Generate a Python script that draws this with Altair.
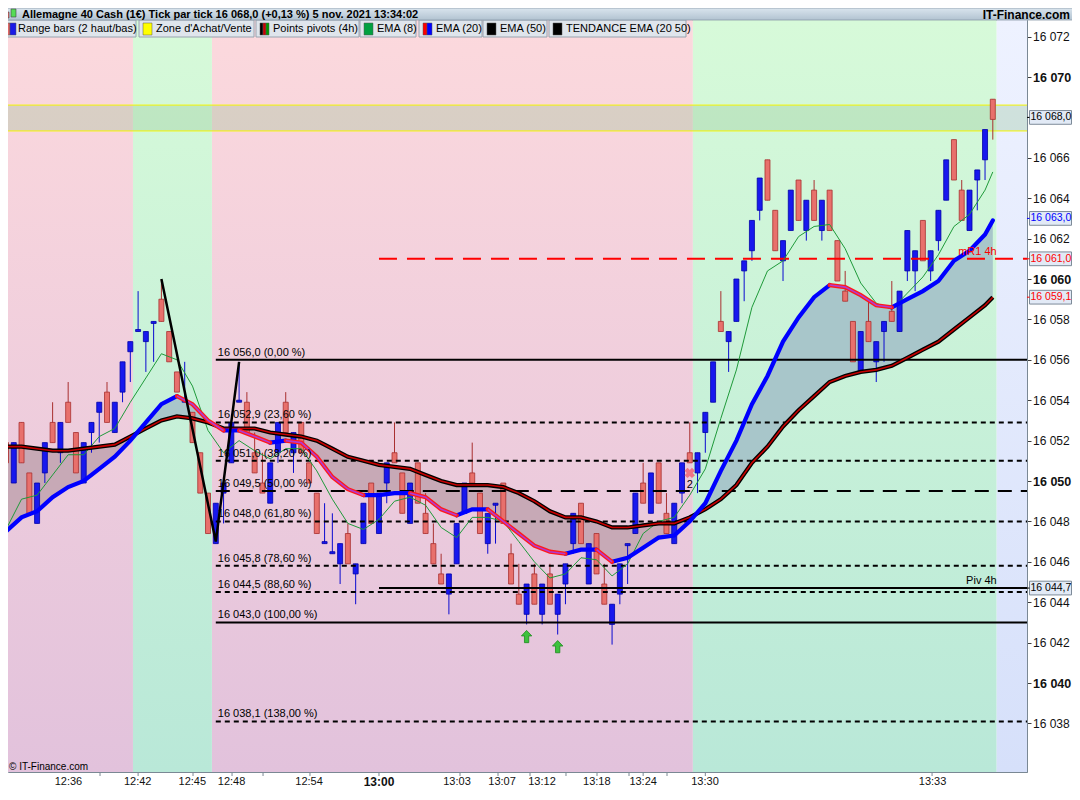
import altair as alt
import pandas as pd

# ---------------- data ----------------
bar_open = [16051.9, 16049.9, 16052.9, 16050.4, 16047.9, 16050.4, 16052.9, 16051.4, 16053.9, 16052.4,
            16049.9, 16052.4, 16053.4, 16054.4, 16052.4, 16054.4, 16056.4, 16057.4, 16056.9, 16057.8,
            16059.0, 16057.4, 16055.4, 16053.9, 16053.4, 16051.4, 16049.4, 16046.9, 16049.4, 16050.9,
            16053.9, 16053.9, 16051.4, 16049.9, 16048.9, 16051.4, 16053.9, 16051.4, 16052.9, 16050.9,
            16049.4, 16046.9, 16046.4, 16045.9, 16047.4, 16045.4, 16046.9, 16049.9, 16047.4, 16049.9,
            16051.4, 16050.4, 16047.9, 16050.9, 16048.4, 16046.9, 16045.4, 16044.4, 16045.9, 16048.4,
            16050.4, 16049.4, 16046.9, 16048.8, 16049.9, 16046.4, 16044.4, 16043.4, 16045.4, 16043.4,
            16045.4, 16043.4, 16044.9, 16046.9, 16048.9, 16044.9, 16047.4, 16044.9, 16042.9, 16044.4,
            16046.8, 16047.4, 16049.9, 16048.4, 16050.9, 16048.4, 16046.9, 16049.4, 16051.4, 16050.4,
            16052.4, 16053.9, 16057.9, 16056.9, 16057.9, 16060.4, 16061.4, 16063.4, 16065.9, 16063.4,
            16060.9, 16062.4, 16064.9, 16062.4, 16064.4, 16062.4, 16064.4, 16061.9, 16059.4, 16057.9,
            16055.4, 16057.9, 16055.9, 16057.4, 16058.4, 16057.4, 16060.4, 16060.4, 16062.9, 16060.4,
            16061.9, 16063.9, 16066.9, 16064.4, 16062.4, 16064.9, 16065.9, 16068.9]
bar_close = [16050.9, 16051.9, 16050.9, 16048.4, 16049.9, 16051.9, 16051.9, 16052.9, 16052.9, 16050.4,
             16051.9, 16052.9, 16053.9, 16052.9, 16053.9, 16055.9, 16056.9, 16057.5, 16057.4, 16057.9,
             16057.9, 16055.9, 16054.4, 16054.0, 16051.9, 16049.4, 16047.4, 16048.9, 16049.9, 16052.9,
             16054.0, 16052.4, 16050.4, 16049.4, 16050.9, 16052.9, 16052.4, 16052.4, 16051.4, 16049.9,
             16047.4, 16047.0, 16046.5, 16046.9, 16045.9, 16045.9, 16048.9, 16047.9, 16049.4, 16050.9,
             16050.9, 16048.4, 16049.9, 16048.9, 16047.4, 16045.9, 16044.9, 16045.4, 16047.9, 16049.9,
             16049.9, 16047.4, 16048.4, 16048.9, 16047.9, 16044.9, 16043.9, 16044.9, 16043.9, 16044.9,
             16043.9, 16044.4, 16045.9, 16048.4, 16046.9, 16046.9, 16045.4, 16043.9, 16043.9, 16045.9,
             16046.9, 16049.4, 16048.9, 16050.4, 16048.9, 16047.4, 16048.9, 16050.9, 16050.9, 16051.4,
             16053.4, 16055.9, 16057.4, 16057.4, 16060.0, 16060.9, 16062.9, 16065.0, 16063.9, 16061.4,
             16061.9, 16064.4, 16062.9, 16063.9, 16062.9, 16063.9, 16062.4, 16059.9, 16058.9, 16055.9,
             16057.4, 16056.9, 16056.9, 16057.9, 16057.9, 16059.4, 16062.4, 16061.4, 16060.9, 16061.4,
             16063.4, 16065.9, 16064.9, 16062.9, 16064.4, 16065.4, 16067.4, 16067.9]
bar_high = [16052.9, 16051.9, 16052.9, 16050.4, 16049.9, 16051.9, 16053.9, 16052.9, 16054.9, 16052.4,
            16051.9, 16052.9, 16053.9, 16054.9, 16053.9, 16055.9, 16056.9, 16059.4, 16057.4, 16057.9,
            16060.0, 16057.4, 16055.4, 16055.9, 16053.4, 16051.4, 16049.4, 16048.9, 16049.9, 16052.9,
            16055.9, 16054.4, 16052.4, 16051.4, 16050.9, 16052.9, 16054.4, 16052.4, 16052.9, 16050.9,
            16049.4, 16048.9, 16048.4, 16046.9, 16047.9, 16045.9, 16048.9, 16049.9, 16049.4, 16050.9,
            16052.9, 16050.4, 16049.9, 16050.9, 16049.4, 16047.9, 16046.4, 16045.4, 16047.9, 16049.9,
            16051.9, 16049.4, 16048.4, 16048.9, 16049.9, 16046.9, 16045.9, 16044.9, 16045.9, 16044.9,
            16045.9, 16044.4, 16045.9, 16048.4, 16048.9, 16046.9, 16047.4, 16045.9, 16043.9, 16045.9,
            16046.9, 16049.4, 16050.9, 16050.4, 16050.9, 16049.4, 16048.9, 16050.9, 16052.9, 16051.4,
            16053.4, 16055.9, 16059.4, 16057.4, 16060.0, 16060.9, 16062.9, 16065.0, 16065.9, 16063.4,
            16061.9, 16064.4, 16064.9, 16063.9, 16064.9, 16063.9, 16064.4, 16061.9, 16060.4, 16057.9,
            16057.4, 16058.9, 16056.9, 16057.9, 16059.9, 16059.4, 16062.4, 16061.4, 16062.9, 16061.4,
            16063.4, 16065.9, 16066.9, 16064.9, 16064.4, 16065.4, 16067.4, 16068.9]
bar_low = [16050.9, 16049.9, 16050.9, 16048.4, 16047.9, 16049.9, 16051.9, 16050.9, 16052.9, 16050.4,
           16049.9, 16051.4, 16051.9, 16052.9, 16052.4, 16053.9, 16054.9, 16057.4, 16055.4, 16055.9,
           16057.9, 16055.9, 16054.4, 16053.9, 16051.9, 16049.4, 16047.4, 16046.9, 16047.9, 16050.9,
           16053.9, 16052.4, 16050.4, 16049.4, 16048.9, 16050.9, 16052.4, 16050.4, 16051.4, 16049.9,
           16047.4, 16046.9, 16046.4, 16044.9, 16045.9, 16043.9, 16046.9, 16047.9, 16047.4, 16048.9,
           16050.9, 16048.4, 16047.9, 16048.9, 16047.4, 16045.9, 16044.9, 16043.4, 16045.9, 16048.4,
           16049.9, 16047.4, 16046.4, 16046.9, 16047.9, 16044.9, 16043.9, 16042.9, 16043.9, 16042.9,
           16043.9, 16042.4, 16043.9, 16046.4, 16046.9, 16044.9, 16045.4, 16043.9, 16041.9, 16043.9,
           16044.9, 16047.4, 16048.9, 16048.4, 16048.9, 16047.4, 16046.9, 16048.9, 16050.9, 16049.4,
           16051.4, 16053.9, 16057.4, 16055.4, 16057.9, 16058.9, 16060.9, 16062.9, 16063.9, 16061.4,
           16059.9, 16062.4, 16062.9, 16061.9, 16062.9, 16061.9, 16062.4, 16059.9, 16058.9, 16055.9,
           16055.4, 16056.9, 16054.9, 16055.9, 16057.9, 16057.4, 16059.9, 16059.4, 16060.9, 16059.9,
           16061.4, 16063.9, 16064.9, 16062.9, 16062.4, 16063.4, 16064.9, 16066.9]

ema_pos = [0, 2, 4, 6, 8, 10, 12, 14, 16, 18, 20, 22, 24, 26, 28, 30, 32, 34, 36, 38,
           40, 42, 44, 46, 48, 50, 52, 54, 56, 58, 60, 62, 64, 66, 68, 70, 72, 74, 76, 78,
           80, 82, 84, 86, 88, 90, 92, 94, 96, 98, 100, 102, 104, 106, 108, 110, 112, 114, 116, 118,
           120, 122, 124, 126, 127]
ema8 = [16047.6, 16049.1, 16049.3, 16050.3, 16051.3, 16051.3, 16052.2, 16052.6, 16053.9, 16055.1,
        16056.3, 16056.0, 16054.7, 16052.5, 16051.4, 16052.0, 16051.5, 16051.1, 16051.6, 16051.6,
        16050.5, 16049.1, 16047.9, 16047.6, 16048.1, 16049.0, 16049.2, 16048.8, 16047.7, 16047.2,
        16048.2, 16048.2, 16048.0, 16047.0, 16046.0, 16045.2, 16045.4, 16046.2, 16046.1, 16045.3,
        16045.9, 16047.4, 16048.0, 16048.2, 16049.3, 16050.6, 16053.1, 16055.5, 16058.6, 16060.4,
        16060.9, 16062.1, 16062.6, 16062.7, 16061.5, 16059.8, 16058.8, 16058.5, 16059.3, 16060.1,
        16061.2, 16062.6, 16063.2, 16064.4, 16065.3]
ema20 = [16047.5, 16048.2, 16048.5, 16049.2, 16049.7, 16050.0, 16050.6, 16051.2, 16052.0, 16052.9,
         16053.8, 16054.2, 16053.8, 16053.0, 16052.5, 16052.5, 16052.2, 16051.9, 16052.0, 16051.9,
         16051.2, 16050.2, 16049.6, 16049.3, 16049.3, 16049.4, 16049.4, 16049.2, 16048.6, 16048.3,
         16048.6, 16048.6, 16048.0, 16047.4, 16046.8, 16046.5, 16046.4, 16046.6, 16046.6, 16046.0,
         16046.2, 16046.7, 16047.2, 16047.3, 16048.0, 16048.9, 16050.5, 16052.0, 16053.8, 16055.2,
         16056.9, 16058.1, 16059.1, 16059.7, 16059.6, 16059.2, 16058.7, 16058.6, 16059.0, 16059.4,
         16059.9, 16060.9, 16061.4, 16062.2, 16062.9]
ema50 = [16051.7, 16051.7, 16051.6, 16051.5, 16051.5, 16051.6, 16051.7, 16051.8, 16052.2, 16052.6,
         16053.0, 16053.2, 16053.1, 16052.9, 16052.6, 16052.6, 16052.6, 16052.4, 16052.3, 16052.2,
         16052.0, 16051.6, 16051.2, 16051.0, 16050.8, 16050.7, 16050.6, 16050.3, 16050.0, 16049.8,
         16049.8, 16049.8, 16049.7, 16049.4, 16049.0, 16048.5, 16048.2, 16048.2, 16048.0, 16047.7,
         16047.7, 16047.8, 16047.9, 16047.9, 16048.2, 16048.6, 16049.1, 16049.8, 16050.9, 16051.7,
         16052.7, 16053.5, 16054.2, 16054.9, 16055.2, 16055.4, 16055.5, 16055.7, 16056.1, 16056.5,
         16056.9, 16057.5, 16058.1, 16058.7, 16059.1]

zone_start = [0.257, 16.34, 26.5, 88.4, 127.5]
zone_end = [16.34, 26.5, 88.4, 127.5, 131.4]
zone_kind = ["vente", "achat", "vente", "achat", "futur"]

buy_sell_low, buy_sell_high = 16067.33, 16068.61

fib_levels = [16056.0, 16052.9, 16051.0, 16049.5, 16048.0, 16045.8, 16044.5, 16043.0, 16038.1]
fib_labels = ["16 056,0 (0,00 %)", "16 052,9 (23,60 %)", "16 051,0 (38,20 %)", "16 049,5 (50,00 %)",
              "16 048,0 (61,80 %)", "16 045,8 (78,60 %)", "16 044,5 (88,60 %)", "16 043,0 (100,00 %)",
              "16 038,1 (138,00 %)"]
fib_style = ["solid", "short", "short", "long", "short", "short", "short", "solid", "short"]
fib_start = 27

piv_levels = [16061.0, 16044.7]
piv_names = ["mR1 4h", "Piv 4h"]
piv_colors = ["#ff0000", "#000000"]
piv_dash = [[18, 10], [1, 0]]
piv_start = 48

zz_pos = [20, 27, 30]
zz_vals = [16060.0, 16047.0, 16055.9]

arrow_pos = [67, 71]
arrow_vals = [16042.3, 16041.8]

signal_pos, signal_val, signal_text, signal_text_val = 88, 16050.4, "2", 16049.8

last_vals = [16068.0, 16063.0, 16061.0, 16059.1, 16044.7]
last_texts = ["16 068,0", "16 063,0", "16 061,0", "16 059,1", "16 044,7"]
last_colors = ["#000000", "#0000ff", "#ff0000", "#ff0000", "#000000"]

y_ticks = [16038, 16040, 16042, 16044, 16046, 16048, 16050, 16052, 16054, 16056,
           16058, 16060, 16062, 16064, 16066, 16068, 16070, 16072]
hidden_tick_label = 16068

time_labels = ["12:36", "12:42", "12:45", "12:48", "12:54", "13:00", "13:03", "13:07",
               "13:12", "13:18", "13:24", "13:30", "13:33"]
time_pos = [8.04, 16.95, 23.98, 29.03, 39.0, 48.0, 58.04, 63.84, 68.98, 76.04, 82.0, 89.96, 119.25]
time_ticks = [12.1, 17.0, 24.07, 29.09, 33.08, 39.12, 48.0, 58.43, 63.32, 67.44, 72.07, 76.06,
              80.18, 82.0, 85.07, 90.0, 119.18]

title_text = "Allemagne 40 Cash (1€) Tick par tick 16 068,0 (+0,13 %) 5 nov. 2021 13:34:02"
legend_labels = ["Range bars (2 haut/bas)", "Zone d'Achat/Vente", "Points pivots (4h)", "EMA (8)",
                 "EMA (20)", "EMA (50)", "TENDANCE EMA (20 50)"]

# ---------------- layout (pixels) ----------------
W, H = 1019, 752
PX_PER_PT = 20.2
Y_TOP = 16072.822
Y_BOT = Y_TOP - H / PX_PER_PT
FONT = "Liberation Sans"
legend_box_x0 = [-6, 131, 248, 352, 411, 475, 541]
legend_box_x1 = [128, 246, 351, 408, 474, 539, 678]
legend_text_x = [10, 148, 265, 369, 428, 492, 558]
icon_x0 = [-3, 2, 135, 252, 255, 258, 356, 415, 419, 479, 545]
icon_x1 = [2, 8, 144, 255, 258, 261, 365, 419, 424, 488, 554]
icon_col = ["#e06666", "#1a1ae6", "#ffff00", "#000000", "#cc0000", "#009900", "#00a040",
            "#ff0000", "#0000ff", "#000000", "#000000"]

xs = alt.Scale(domain=[0.257, 131.4], nice=False, zero=False, padding=0)
ys = alt.Scale(domain=[Y_BOT, Y_TOP], nice=False, zero=False, padding=0)

bold10 = "datum.value % 10 === 0"
yaxis = alt.Axis(orient="right", values=y_ticks,
                 labelExpr="datum.value == %d ? '' : replace(format(datum.value, ','), ',', ' ')"
                           % hidden_tick_label,
                 tickSize=4, tickColor="#3c3c3c", domainColor="#7a8894", labelColor="#111111",
                 labelFont=FONT,
                 labelFontSize={"condition": {"test": bold10, "value": 12.5}, "value": 12},
                 labelFontWeight={"condition": {"test": bold10, "value": "bold"}, "value": "normal"},
                 labelPadding=1.5, grid=False, title=None, labelFlush=False, labelOverlap=False)


def X(f):
    return alt.X(f, type="quantitative", scale=xs, axis=None)


def Y(f):
    return alt.Y(f, type="quantitative", scale=ys, axis=yaxis)


def grad(top, bottom):
    return alt.LinearGradient(gradient="linear",
                              stops=[alt.GradientStop(color=top, offset=0),
                                     alt.GradientStop(color=bottom, offset=1)],
                              x1=0, x2=0, y1=0, y2=1)


layers = []

# background zones
zones = pd.DataFrame({"a": zone_start, "b": zone_end, "kind": zone_kind})
for kind, top, bot in [("vente", "#fcd9dd", "#e2c2dc"), ("achat", "#d7fad9", "#b9e8d8"),
                       ("futur", "#eef2ff", "#d6e0fa")]:
    layers.append(alt.Chart(zones).transform_filter(alt.datum.kind == kind)
                  .mark_rect(color=grad(top, bot))
                  .encode(x=X("a"), x2="b", y=alt.value(0), y2=alt.value(H)))

# buy/sell zone
zdf = pd.DataFrame({"lo": [buy_sell_low], "hi": [buy_sell_high]})
layers.append(alt.Chart(zdf).mark_rect(color="#90c090", opacity=0.3)
              .encode(x=alt.value(0), x2=alt.value(W), y=Y("lo"), y2="hi"))
zl = pd.DataFrame({"v": [buy_sell_low, buy_sell_high]})
layers.append(alt.Chart(zl).mark_rule(color="#f5f500", strokeWidth=1)
              .encode(x=alt.value(0), x2=alt.value(W), y=Y("v")))

# fill between EMA20 and EMA50
rows = []
run, prev = 0, None
for k in range(len(ema_pos) - 1):
    side = "haut" if ema20[k] + ema20[k + 1] >= ema50[k] + ema50[k + 1] else "bas"
    if side != prev:
        run += 1
        prev = side
    for j in (k, k + 1):
        rows.append({"x": ema_pos[j], "a": ema20[j], "b": ema50[j], "run": run, "side": side})
fill_df = pd.DataFrame(rows)
for side, col in [("haut", "#a8c6ca"), ("bas", "#c7a9b6")]:
    layers.append(alt.Chart(fill_df).transform_filter(alt.datum.side == side)
                  .mark_area(clip=True, color=col, opacity=1)
                  .encode(x=X("x"), y=Y("a"), y2="b", detail="run:N"))

# candles
bars = pd.DataFrame({"i": list(range(len(bar_open))), "o": bar_open, "c": bar_close,
                     "h": bar_high, "l": bar_low})
bars["dir"] = ["up" if c >= o else "down" for o, c in zip(bar_open, bar_close)]
for d, wick, body, edge in [("up", "#0a0ad0", "#1818ee", "#0000a8"),
                            ("down", "#a83030", "#e8706c", "#a83030")]:
    sub = alt.Chart(bars).transform_filter(alt.datum.dir == d)
    layers.append(sub.mark_rule(strokeWidth=1, clip=True, color=wick)
                  .encode(x=X("i"), y=Y("l"), y2="h"))
    layers.append(sub.mark_bar(size=5, strokeWidth=0.8, clip=True, color=body, stroke=edge,
                               opacity=1)
                  .encode(x=X("i"), y=Y("o"), y2="c"))

# fib lines
fib_df = pd.DataFrame({"v": fib_levels, "lab": fib_labels, "st": fib_style,
                       "s": [fib_start] * len(fib_levels), "e": [131.4] * len(fib_levels)})
for st, dash in [("solid", [1, 0]), ("short", [5, 4]), ("long", [14, 9])]:
    layers.append(alt.Chart(fib_df).transform_filter(alt.datum.st == st)
                  .mark_rule(color="black", strokeWidth=2, strokeDash=dash)
                  .encode(x=X("s"), x2="e", y=Y("v")))

# pivots
piv_df = pd.DataFrame({"v": piv_levels, "n": piv_names, "col": piv_colors,
                       "s": [piv_start] * 2, "e": [131.4] * 2, "lx": [zone_start[4]] * 2})
for k in range(len(piv_levels)):
    one = alt.Chart(piv_df).transform_filter(alt.datum.n == piv_names[k])
    layers.append(one.mark_rule(strokeWidth=2, color=piv_colors[k], strokeDash=piv_dash[k])
                  .encode(x=X("s"), x2="e", y=Y("v")))

# EMA 8
e_df = pd.DataFrame({"x": ema_pos, "e8": ema8, "e20": ema20, "e50": ema50})
layers.append(alt.Chart(e_df).mark_line(color="#1f9a3a", strokeWidth=1, clip=True)
              .encode(x=X("x"), y=Y("e8")))
# EMA 50
layers.append(alt.Chart(e_df).mark_line(color="#000000", strokeWidth=4.2, clip=True)
              .encode(x=X("x"), y=Y("e50")))
layers.append(alt.Chart(e_df).mark_line(color="#c80000", strokeWidth=1.6, clip=True)
              .encode(x=X("x"), y=Y("e50")))
# EMA 20 coloured by slope
rows = []
run, prev = 0, None
for k in range(len(ema_pos) - 1):
    d = "down" if ema20[k + 1] < ema20[k] else "up"
    if d != prev:
        run += 1
        prev = d
    for j in (k, k + 1):
        rows.append({"x": ema_pos[j], "v": ema20[j], "run": run, "d": d})
e20_df = pd.DataFrame(rows)
layers.append(alt.Chart(e20_df).transform_filter(alt.datum.d == "up")
              .mark_line(strokeWidth=4.2, clip=True, color="#0000ff", strokeCap="round")
              .encode(x=X("x"), y=Y("v"), detail="run:N"))
layers.append(alt.Chart(e20_df).transform_filter(alt.datum.d == "down")
              .mark_line(strokeWidth=4.2, clip=True, color="#ff1a1a", strokeCap="round")
              .encode(x=X("x"), y=Y("v"), detail="run:N"))
layers.append(alt.Chart(e20_df).transform_filter(alt.datum.d == "down")
              .mark_line(strokeWidth=1.6, clip=True, color="#b23ad0")
              .encode(x=X("x"), y=Y("v"), detail="run:N"))

# zigzag
zz_df = pd.DataFrame({"x": zz_pos, "v": zz_vals})
layers.append(alt.Chart(zz_df).mark_line(color="black", strokeWidth=2.5)
              .encode(x=X("x"), y=Y("v")))

# fib labels & pivot labels
layers.append(alt.Chart(fib_df).mark_text(align="left", baseline="bottom", dx=2, dy=-2,
                                          fontSize=11, color="#000000")
              .encode(x=X("s"), y=Y("v"), text="lab:N"))
for k in range(len(piv_levels)):
    layers.append(alt.Chart(piv_df).transform_filter(alt.datum.n == piv_names[k])
                  .mark_text(align="right", baseline="bottom", dy=-2, fontSize=11,
                             color=piv_colors[k])
                  .encode(x=X("lx"), y=Y("v"), text="n:N"))

# arrows and signal
arr_df = pd.DataFrame({"x": arrow_pos, "v": arrow_vals})
layers.append(alt.Chart(arr_df).mark_point(
    shape="M0,-1L0.85,-0.1L0.35,-0.1L0.35,1L-0.35,1L-0.35,-0.1L-0.85,-0.1Z",
    size=150, filled=True, fill="#3cc23c", stroke="#1f8a1f", strokeWidth=0.8, opacity=1)
    .encode(x=X("x"), y=Y("v")))
sig_df = pd.DataFrame({"x": [signal_pos], "v": [signal_val], "tv": [signal_text_val],
                       "t": [signal_text]})
layers.append(alt.Chart(sig_df).mark_point(shape="cross", angle=45, size=110, filled=True,
                                           color="#f07585", opacity=1)
              .encode(x=X("x"), y=Y("v")))
layers.append(alt.Chart(sig_df).mark_text(fontSize=11, color="#000000")
              .encode(x=X("x"), y=Y("tv"), text="t:N"))

# last-value boxes on the price axis
lv = pd.DataFrame({"v": last_vals, "t": last_texts, "c": last_colors})
lv["top"] = lv["v"] + 0.34
lv["bot"] = lv["v"] - 0.34
layers.append(alt.Chart(lv).mark_rect(fill="#e2eaf6", stroke="#7d8b99", strokeWidth=1)
              .encode(x=alt.value(1021.5), x2=alt.value(1063.5), y=Y("top"), y2="bot"))
layers.append(alt.Chart(lv).mark_rule(strokeWidth=1)
              .encode(x=alt.value(1019), x2=alt.value(1021.5), y=Y("v"),
                      color=alt.Color("c:N", scale=None)))
layers.append(alt.Chart(lv).mark_text(align="left", baseline="middle", fontSize=10.5, dx=0)
              .encode(x=alt.value(1022.5), y=Y("v"), text="t:N",
                      color=alt.Color("c:N", scale=None)))

# time axis: ticks and labels
tk = pd.DataFrame({"x": time_ticks})
layers.append(alt.Chart(tk).mark_rule(color="#7a8894", strokeWidth=1)
              .encode(x=X("x"), y=alt.value(H), y2=alt.value(H + 4)))
t_df = pd.DataFrame({"x": time_pos, "t": time_labels})
t_df["w"] = ["bold" if t == "13:00" else "normal" for t in time_labels]
layers.append(alt.Chart(t_df).transform_filter(alt.datum.w == "normal")
              .mark_text(fontSize=11, color="#111111", baseline="middle")
              .encode(x=X("x"), y=alt.value(H + 10), text="t:N"))
layers.append(alt.Chart(t_df).transform_filter(alt.datum.w == "bold")
              .mark_text(fontSize=12, fontWeight="bold", color="#111111", baseline="middle")
              .encode(x=X("x"), y=alt.value(H + 10), text="t:N"))

# legend strip
lb = pd.DataFrame({"x0": legend_box_x0, "x1": legend_box_x1, "tx": legend_text_x,
                   "t": legend_labels})
layers.append(alt.Chart(lb).mark_rect(fill="#dfe5ec", stroke="#98a4b0", strokeWidth=1)
              .encode(x=alt.X("x0:Q", scale=None), x2="x1:Q", y=alt.value(0), y2=alt.value(17)))
layers.append(alt.Chart(lb).mark_text(align="left", baseline="middle", fontSize=11,
                                      color="#000000")
              .encode(x=alt.X("tx:Q", scale=None), y=alt.value(9), text="t:N"))
ic = pd.DataFrame({"x0": icon_x0, "x1": icon_x1, "c": icon_col})
layers.append(alt.Chart(ic).mark_rect(stroke="#555555", strokeWidth=0.5)
              .encode(x=alt.X("x0:Q", scale=None), x2="x1:Q", y=alt.value(3), y2=alt.value(15),
                      color=alt.Color("c:N", scale=None)))

# header bar
hd = pd.DataFrame({"t": [title_text], "r": ["IT-Finance.com"]})
layers.append(alt.Chart(hd).mark_rect(color=grad("#dae5ee", "#b2c3d1"), stroke="#8a9aa8",
                                      strokeWidth=0.8)
              .encode(x=alt.value(-1), x2=alt.value(1065), y=alt.value(-12), y2=alt.value(0)))
hicon = pd.DataFrame({"x0": [-4, 3], "x1": [1, 8], "y0": [-8, -11], "y1": [-2, -3],
                      "c": ["#e06666", "#55dd55"]})
layers.append(alt.Chart(hicon).mark_rect(stroke="#444444", strokeWidth=0.6)
              .encode(x=alt.X("x0:Q", scale=None), x2="x1:Q",
                      y=alt.Y("y0:Q", scale=None), y2="y1:Q",
                      color=alt.Color("c:N", scale=None)))
layers.append(alt.Chart(hd).mark_text(align="left", baseline="middle", fontSize=11,
                                      fontWeight="bold", color="#000000")
              .encode(x=alt.value(14), y=alt.value(-5.5), text="t:N"))
layers.append(alt.Chart(hd).mark_text(align="right", baseline="middle", fontSize=12,
                                      fontWeight="bold", color="#000000")
              .encode(x=alt.value(1062), y=alt.value(-5.5), text="r:N"))
layers.append(alt.Chart(hd).mark_text(align="left", baseline="middle", fontSize=10,
                                      color="#000000")
              .encode(x=alt.value(1), y=alt.value(H - 5), text=alt.value("© IT-Finance.com")))

chart = (alt.layer(*layers)
         .properties(width=W, height=H,
                     padding={"left": 0, "top": 12, "right": 45, "bottom": 17},
                     autosize=alt.AutoSizeParams(type="none"), background="white")
         .configure_view(stroke="#7a8894", strokeWidth=1)
         .configure_text(font=FONT))

chart.save("out.html", embed_options={"renderer": "svg", "actions": False})
